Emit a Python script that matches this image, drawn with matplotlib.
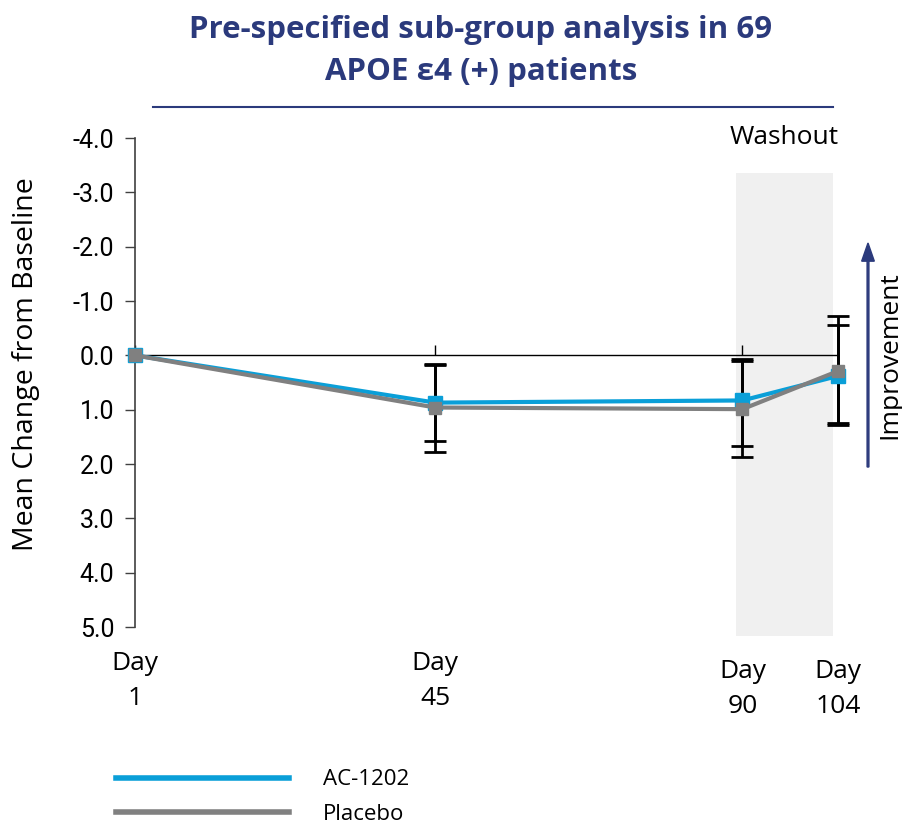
import numpy as np
import matplotlib.pyplot as plt
from matplotlib.patches import Rectangle, FancyArrow
from matplotlib.transforms import blended_transform_factory

# Study days and mean change from baseline (positive = worse)
days = [1, 45, 90, 104]
day_labels = ["Day\n1", "Day\n45", "Day\n90", "Day\n104"]

ac_mean = [0.0, 0.87, 0.83, 0.38]
ac_low = [0.0, 0.15, 0.07, -0.72]
ac_high = [0.0, 1.58, 1.66, 1.25]

pl_mean = [0.0, 0.96, 0.99, 0.29]
pl_low = [0.0, 0.17, 0.10, -0.55]
pl_high = [0.0, 1.77, 1.88, 1.29]

washout = (89.1, 103.3)

navy = "#2b3a7c"
blue = "#0a9fd8"
grey = "#808080"

plt.rcParams['font.family'] = ['Open Sans', 'DejaVu Sans']

fig = plt.figure(figsize=(9.03, 8.26), dpi=100)
ax = fig.add_axes([0.1495, 0.2409, 0.7785, 0.592])

ax.set_xlim(1, 104)
ax.set_ylim(5, -4)

# washout shading
ax.add_patch(Rectangle((washout[0], -3.35), washout[1] - washout[0], 8.52,
                       facecolor="#f0f0f0", edgecolor="none", zorder=0, clip_on=False))
fig.text(784 / 903, 1 - 137 / 826, "Washout", ha="center", va="center", fontsize=19)

d = np.array(days)
for mean, low, high in [(ac_mean, ac_low, ac_high), (pl_mean, pl_low, pl_high)]:
    m = np.array(mean)[1:]
    eb = ax.errorbar(d[1:], m, yerr=[m - np.array(low[1:]), np.array(high[1:]) - m],
                     fmt="none", ecolor="black", elinewidth=2, capsize=8, capthick=2, zorder=2)
    for art in eb.lines[1] + eb.lines[2]:
        art.set_clip_on(False)

ax.plot(days, ac_mean, color=blue, lw=3, marker="s", ms=10, mfc=blue, mec=blue,
        label="AC-1202", zorder=3, clip_on=False)
ax.plot(days, pl_mean, color=grey, lw=3, marker="s", ms=9, mfc=grey, mec=grey,
        label="Placebo", zorder=4, clip_on=False)

# axes styling
for s in ["top", "right"]:
    ax.spines[s].set_visible(False)
ax.spines["bottom"].set_position(("data", 0))
ax.spines["bottom"].set_linewidth(1)
ax.spines["left"].set_color("#404040")
ax.spines["left"].set_linewidth(1.2)

yt = np.arange(-4, 5.1, 1)
ax.set_yticks(yt)
ax.set_yticklabels([f"{v:.1f}" for v in yt], family="Roboto", fontsize=18)
ax.tick_params(axis="y", length=7, width=1, color="#404040", pad=8)
ax.set_xticks(days)
ax.set_xticklabels([])
ax.tick_params(axis="x", direction="in", length=7, width=1)

trans = blended_transform_factory(ax.transData, fig.transFigure)
label_y = [1 - 681 / 826, 1 - 681 / 826, 1 - 689 / 826, 1 - 689 / 826]
for x, lab, yy in zip(days, day_labels, label_y):
    ax.text(x, yy, lab, transform=trans, ha="center", va="center", fontsize=19, linespacing=1.55)

fig.text(26 / 903, 1 - 364 / 826, "Mean Change from Baseline", rotation=90,
         ha="center", va="center", fontsize=20.5)

# improvement arrow on the right
fig.patches.append(FancyArrow(
    868 / 903, 1 - 467 / 826, 0, (467 - 243) / 826, width=0.002, head_width=0.014,
    head_length=0.022, length_includes_head=True, color=navy, transform=fig.transFigure))
fig.text(890 / 903, 1 - 355 / 826, "Improvement", rotation=90, ha="center", va="center", fontsize=19)

# title and rule
fig.text(481 / 903, 1 - 51 / 826, "Pre-specified sub-group analysis in 69\nAPOE ε4 (+) patients",
         ha="center", va="center", fontsize=22.5, fontweight="bold", color=navy, linespacing=1.5)
fig.add_artist(plt.Line2D([153 / 903, 833 / 903], [1 - 107 / 826] * 2, color=navy, lw=1.5))

# legend
ax.legend(loc="lower left", bbox_to_anchor=(105 / 903, -0.012), bbox_transform=fig.transFigure,
          frameon=False, fontsize=16, handlelength=7.8, handletextpad=1.5, labelspacing=0.6,
          borderaxespad=0.1)
for h in ax.get_legend().get_lines():
    h.set_marker("")
    h.set_linewidth(4)

fig.savefig("out.png", dpi=100)
